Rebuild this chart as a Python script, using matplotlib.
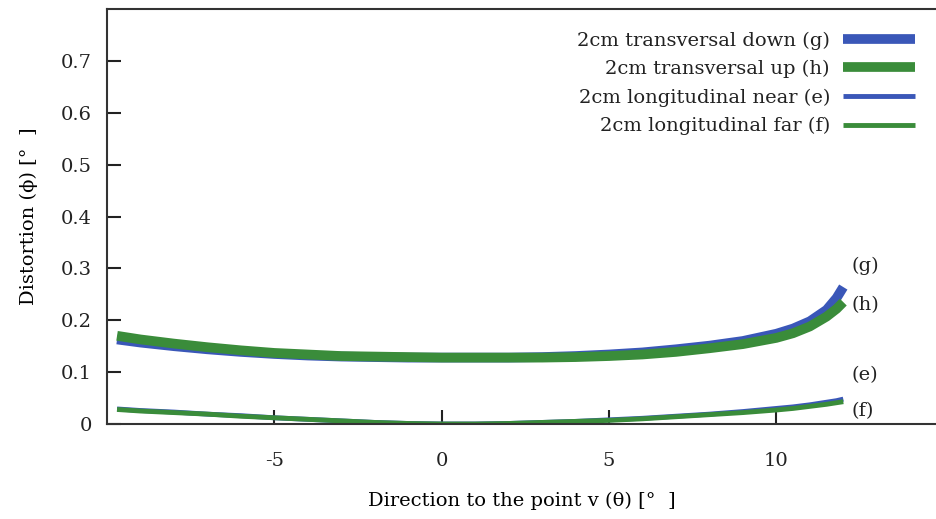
import numpy as np
import matplotlib
matplotlib.use('Agg')
import matplotlib.pyplot as plt

plt.rcParams['font.family'] = ['DejaVu Serif']
plt.rcParams['text.color'] = '#222222'

# 读取的数据 (从图中估计)
theta = [-9.7, -9, -8, -7, -6, -5, -4, -3, -2, -1, 0, 1, 2, 3, 4, 5, 6, 7, 8, 9,
         10, 10.5, 11, 11.5, 11.8, 12.0]
trans_down = [0.163, 0.157, 0.150, 0.144, 0.139, 0.135, 0.132, 0.130, 0.129, 0.128,
              0.128, 0.128, 0.128, 0.129, 0.131, 0.134, 0.138, 0.144, 0.151, 0.160,
              0.174, 0.184, 0.198, 0.220, 0.243, 0.264]
trans_up = [0.170, 0.163, 0.155, 0.148, 0.142, 0.137, 0.134, 0.131, 0.130, 0.129,
            0.128, 0.128, 0.128, 0.128, 0.129, 0.131, 0.134, 0.139, 0.146, 0.154,
            0.166, 0.175, 0.188, 0.207, 0.222, 0.235]
long_near = [0.029, 0.026, 0.023, 0.019, 0.016, 0.012, 0.009, 0.006, 0.003, 0.001,
             0.000, 0.000, 0.001, 0.003, 0.005, 0.008, 0.011, 0.015, 0.019, 0.024,
             0.030, 0.033, 0.037, 0.042, 0.045, 0.048]
long_far = [0.028, 0.025, 0.022, 0.019, 0.015, 0.012, 0.009, 0.006, 0.003, 0.001,
            0.000, 0.000, 0.001, 0.003, 0.005, 0.007, 0.010, 0.014, 0.018, 0.022,
            0.027, 0.030, 0.034, 0.038, 0.041, 0.043]

labels = ['2cm transversal down (g)', '2cm transversal up (h)',
          '2cm longitudinal near (e)', '2cm longitudinal far (f)']
tags = ['(g)', '(h)', '(e)', '(f)']
tag_y = [0.304, 0.229, 0.094, 0.025]

xticks = [-5, 0, 5, 10]
yticks = [0, 0.1, 0.2, 0.3, 0.4, 0.5, 0.6, 0.7]

blue = '#3a57b8'
green = '#3a8c3a'

fig = plt.figure(figsize=(9.36, 5.19), dpi=100)
ax = fig.add_axes([107/936, 95/519, 829/936, 415/519])

ax.plot(theta, trans_down, color=blue, lw=7, label=labels[0], solid_capstyle='butt')
ax.plot(theta, trans_up, color=green, lw=7, label=labels[1], solid_capstyle='butt')
ax.plot(theta, long_near, color=blue, lw=3.5, label=labels[2], solid_capstyle='butt')
ax.plot(theta, long_far, color=green, lw=3.5, label=labels[3], solid_capstyle='butt')

for t, yy in zip(tags, tag_y):
    ax.text(12.25, yy, t, fontsize=14, va='center', ha='left')

ax.set_xlim(-10, 14.77)
ax.set_ylim(0, 0.8)
ax.set_xticks(xticks)
ax.set_xticklabels([str(v) for v in xticks])
ax.set_yticks(yticks)
ax.set_yticklabels(['0'] + ['%.1f' % v for v in yticks[1:]])
ax.tick_params(direction='in', length=10, width=1.5, labelsize=14, pad=11, colors='#222222')
ax.tick_params(axis='x', pad=20)
ax.spines['right'].set_visible(False)
for s in ['left', 'bottom', 'top']:
    ax.spines[s].set_linewidth(1.5)
    ax.spines[s].set_color('#333333')

ax.set_xlabel('Direction to the point v (θ) [°  ]', fontsize=14, labelpad=16)
ax.set_ylabel('Distortion (ϕ) [°  ]', fontsize=14, labelpad=16)

leg = ax.legend(loc='upper right', bbox_to_anchor=(932/936, 505/519), bbox_transform=fig.transFigure,
                frameon=False, markerfirst=False, fontsize=14, handlelength=3.7,
                labelspacing=0.53, handletextpad=0.65)

fig.savefig('out.png', dpi=100)
